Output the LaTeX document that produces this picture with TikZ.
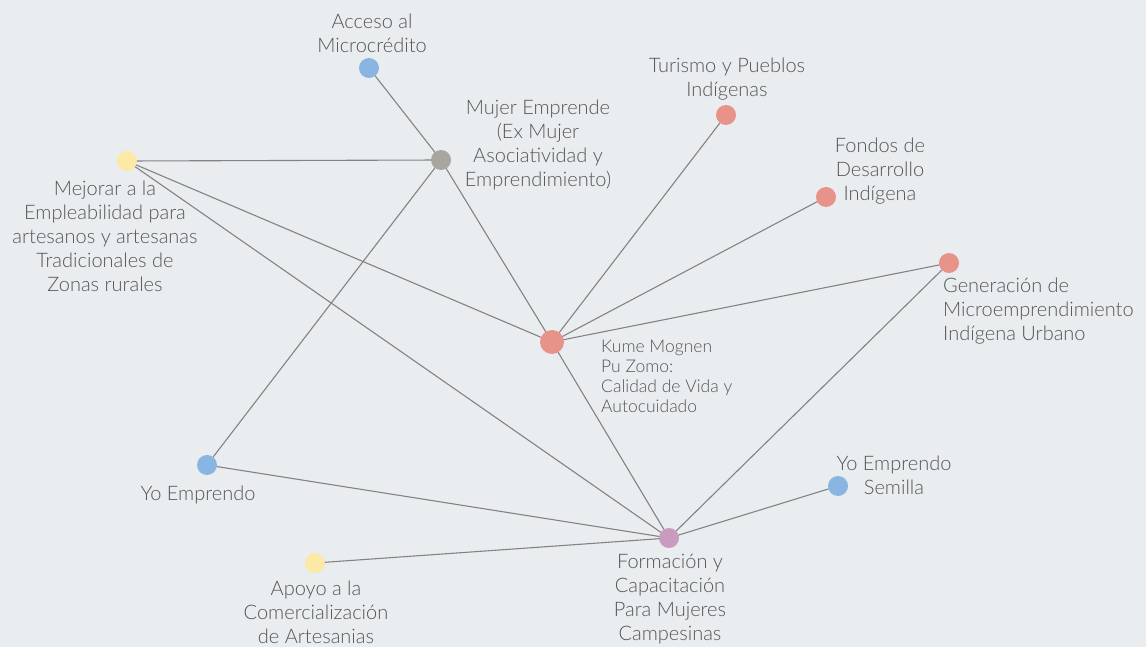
\documentclass[tikz,border=0pt]{standalone}
\usepackage{fontspec}
\setmainfont{Lato Light}[BoldFont=Lato]
\definecolor{fondo}{HTML}{E9EDF0}
\definecolor{linea}{HTML}{838383}
\definecolor{texto}{HTML}{555555}
\definecolor{azul}{HTML}{8AB4E2}
\definecolor{gris}{HTML}{A7A6A0}
\definecolor{amarillo}{HTML}{FCE9A6}
\definecolor{rojo}{HTML}{E8938A}
\definecolor{morado}{HTML}{C99BBF}

\begin{document}
\begin{tikzpicture}[line cap=round,line join=round,x=1pt,y=-1pt,
	punto/.style={circle,inner sep=0pt,minimum size=20pt},
	etiq/.style={text=texto,font=\fontsize{20}{24}\selectfont,align=center,inner sep=0pt},
	enlace/.style={draw=linea,line width=1.1pt}]
		\fill[fondo] (0,0) rectangle (1146,647);
		\useasboundingbox (0,0) rectangle (1146,647);
		% puntos
		\node[punto,fill=azul] (acc) at (369,68) {};
		\node[punto,fill=gris] (mujer) at (441,160) {};
		\node[punto,fill=amarillo] (mej) at (127,161) {};
		\node[punto,fill=rojo] (tur) at (726,115) {};
		\node[punto,fill=rojo] (fon) at (826,197) {};
		\node[punto,fill=rojo] (gen) at (949,263) {};
		\node[punto,fill=rojo,minimum size=24pt] (kume) at (552,342) {};
		\node[punto,fill=azul] (yo) at (207,465) {};
		\node[punto,fill=azul] (yosem) at (838,486) {};
		\node[punto,fill=morado] (form) at (669,538) {};
		\node[punto,fill=amarillo] (apoyo) at (315,563) {};
		% enlaces
		\draw[enlace] (acc) -- (mujer);
		\draw[enlace] (mej) -- (mujer);
		\draw[enlace] (mujer) -- (yo);
		\draw[enlace] (mujer) -- (kume);
		\draw[enlace] (mej) -- (kume);
		\draw[enlace] (mej) -- (form);
		\draw[enlace] (kume) -- (tur);
		\draw[enlace] (kume) -- (fon);
		\draw[enlace] (kume) -- (gen);
		\draw[enlace] (kume) -- (form);
		\draw[enlace] (gen) -- (form);
		\draw[enlace] (yo) -- (form);
		\draw[enlace] (apoyo) -- (form);
		\draw[enlace] (yosem) -- (form);
		% textos
		\node[etiq] (tacc) at (372,33) {Acceso al\\Microcrédito};
		\node[etiq] (tmujer) at (538,145) {Mujer Emprende\\(Ex Mujer\\Asociatividad y\\Emprendimiento)};
		\node[etiq] (tmej) at (105,236) {Mejorar a la\\Empleabilidad para\\artesanos y artesanas\\Tradicionales de\\Zonas rurales};
		\node[etiq] (ttur) at (727,79) {Turismo y Pueblos\\Indígenas};
		\node[etiq] (tfon) at (880,171) {Fondos de\\Desarrollo\\Indígena};
		\node[etiq,align=left,anchor=west] (tgen) at (943,311) {Generación de\\Microemprendimiento\\Indígena Urbano};
		\node[etiq,align=left,anchor=west,font=\fontsize{17.5}{20}\selectfont] (tkume) at (601,376) {Kume Mognen\\Pu Zomo:\\Calidad de Vida y\\Autocuidado};
		\node[etiq] (tyo) at (198,495) {Yo Emprendo};
		\node[etiq] (tyosem) at (894,475) {Yo Emprendo\\Semilla};
		\node[etiq] (tapoyo) at (316,612) {Apoyo a la\\Comercialización\\de Artesanias};
		\node[etiq] (tform) at (670,599) {Formación y\\Capacitación\\Para Mujeres\\Campesinas};
	\end{tikzpicture}
\end{document}
